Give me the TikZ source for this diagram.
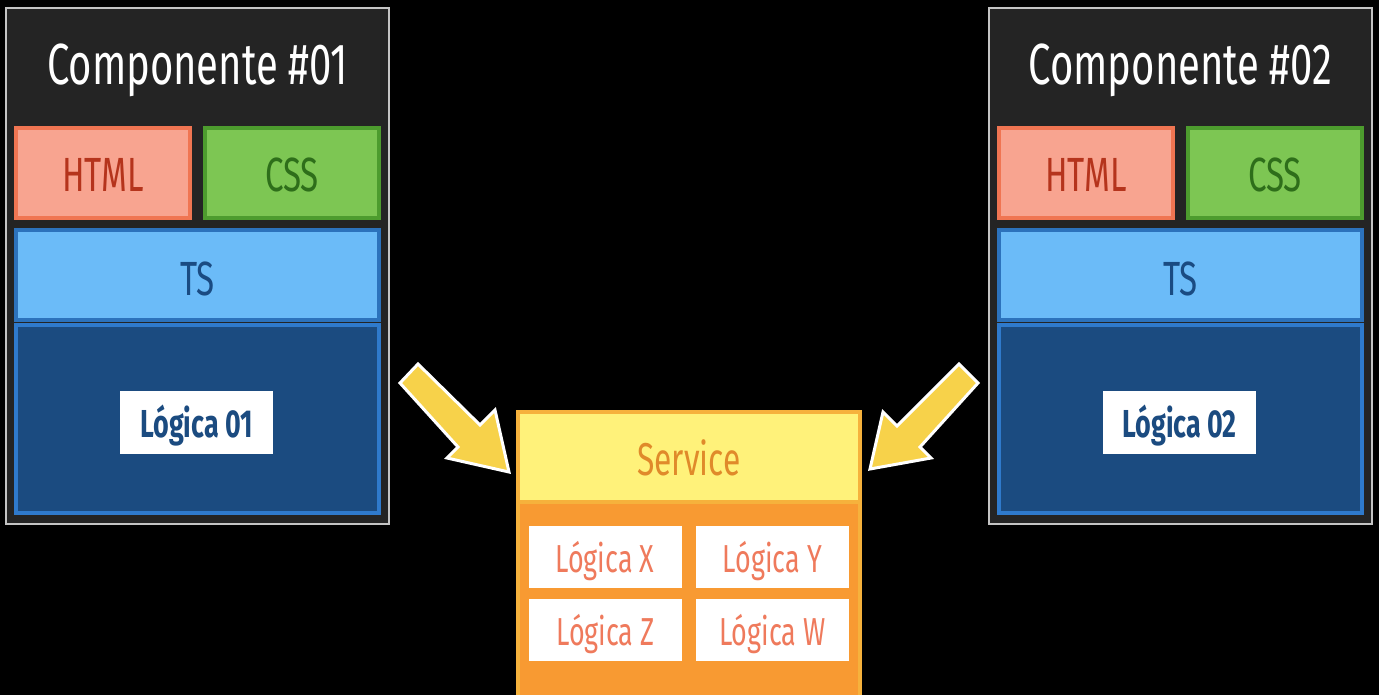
\documentclass[tikz,border=0pt]{standalone}
\usepackage{fontspec}
\setmainfont{Fira Sans}[FakeStretch=0.69]
\definecolor{bgc}{HTML}{000000}
\definecolor{compfill}{HTML}{242424}
\definecolor{compline}{HTML}{C4C4C4}
\definecolor{htmlfill}{HTML}{F8A490}
\definecolor{htmlline}{HTML}{F07552}
\definecolor{htmltext}{HTML}{B5341C}
\definecolor{cssfill}{HTML}{7DC653}
\definecolor{cssline}{HTML}{4D9C2E}
\definecolor{csstext}{HTML}{2E6E1A}
\definecolor{tsfill}{HTML}{6BBBF8}
\definecolor{tsline}{HTML}{2C72BC}
\definecolor{tstext}{HTML}{1A4B82}
\definecolor{logfill}{HTML}{1B4B80}
\definecolor{logline}{HTML}{2F7ACC}
\definecolor{srvline}{HTML}{F6B23C}
\definecolor{srvyellow}{HTML}{FFF27A}
\definecolor{srvtext}{HTML}{E08A2A}
\definecolor{srvorange}{HTML}{F89A32}
\definecolor{lxtext}{HTML}{EF7A5C}
\definecolor{arrowfill}{HTML}{F7D24A}
\tikzset{
  box/.style={rectangle, inner sep=0pt, outer sep=0pt},
  compbox/.style={box, fill=compfill, draw=compline, line width=2pt},
  htmlbox/.style={box, fill=htmlfill, draw=htmlline, line width=4pt, minimum width=174pt, minimum height=90pt},
  cssbox/.style={box, fill=cssfill, draw=cssline, line width=4pt, minimum width=174pt, minimum height=90pt},
  tsbox/.style={box, fill=tsfill, draw=tsline, line width=4pt, minimum width=363pt, minimum height=90pt},
  logbox/.style={box, fill=logfill, draw=logline, line width=4pt, minimum width=363pt, minimum height=188pt},
  whitebox/.style={box, fill=white, minimum width=153pt, minimum height=63pt},
  lxbox/.style={box, fill=white, minimum width=153pt, minimum height=62pt},
  titletxt/.style={anchor=base, inner sep=0pt, text=white, font=\fontsize{58}{58}\selectfont},
  htmltxt/.style={anchor=base, inner sep=0pt, text=htmltext, font=\fontsize{48}{48}\selectfont},
  csstxt/.style={anchor=base, inner sep=0pt, text=csstext, font=\fontsize{48}{48}\selectfont},
  tstxt/.style={anchor=base, inner sep=0pt, text=tstext, font=\fontsize{48}{48}\selectfont},
  logtxt/.style={anchor=base, inner sep=0pt, text=logfill, font=\fontsize{39}{39}\selectfont\bfseries},
  srvtxt/.style={anchor=base, inner sep=0pt, text=srvtext, font=\fontsize{46}{46}\selectfont},
  lxtxt/.style={anchor=base, inner sep=0pt, text=lxtext, font=\fontsize{39}{39}\selectfont},
  blockarrow/.style={fill=arrowfill, draw=white, line width=3pt, line join=miter}
}
\begin{document}
\begin{tikzpicture}[x=1pt,y=-1pt]
\fill[bgc] (0,0) rectangle (1379,695);
\useasboundingbox (0,0) rectangle (1379,695);

% Component 1
\node[compbox, minimum width=383pt, minimum height=516pt] (c1) at (197.5,266) {};
\node[titletxt] (c1t) at (197.5,85) {Componente \#01};
\node[htmlbox] (c1h) at (103,173) {};
\node[htmltxt] (c1ht) at (103,192) {HTML};
\node[cssbox] (c1c) at (292,173) {};
\node[csstxt] (c1ct) at (292,192) {CSS};
\node[tsbox] (c1s) at (197.5,275) {};
\node[tstxt] (c1st) at (197.5,295) {TS};
\node[logbox] (c1l) at (197.5,419) {};
\node[whitebox] (c1w) at (196.5,422.5) {};
\node[logtxt] (c1wt) at (196.5,437) {Lógica 01};

% Component 2
\begin{scope}[xshift=983pt]
\node[compbox, minimum width=383pt, minimum height=516pt] (c2) at (197.5,266) {};
\node[titletxt] (c2t) at (197.5,85) {Componente \#02};
\node[htmlbox] (c2h) at (103,173) {};
\node[htmltxt] (c2ht) at (103,192) {HTML};
\node[cssbox] (c2c) at (292,173) {};
\node[csstxt] (c2ct) at (292,192) {CSS};
\node[tsbox] (c2s) at (197.5,275) {};
\node[tstxt] (c2st) at (197.5,295) {TS};
\node[logbox] (c2l) at (197.5,419) {};
\node[whitebox] (c2w) at (196.5,422.5) {};
\node[logtxt] (c2wt) at (196.5,437) {Lógica 02};
\end{scope}

% Service
\node[box, fill=srvorange, draw=srvline, line width=4pt, minimum width=342pt, minimum height=300pt] (srv) at (689,562) {};
\node[box, fill=srvyellow, draw=srvline, line width=4pt, minimum width=342pt, minimum height=90pt] (srvh) at (689,457) {};
\node[srvtxt] (srvt) at (689,475) {Service};
\node[lxbox] (lx) at (605,557) {};
\node[lxtxt] at (605,572) {Lógica X};
\node[lxbox] (ly) at (772.5,557) {};
\node[lxtxt] at (772.5,572) {Lógica Y};
\node[lxbox] (lz) at (605.5,630) {};
\node[lxtxt] at (605.5,645) {Lógica Z};
\node[lxbox] (lw) at (772.5,630) {};
\node[lxtxt] at (772.5,645) {Lógica W};

% Arrows
\draw[blockarrow] (418,364) -- (480,425) -- (495,410) -- (509,472) -- (447,458) -- (458,447) -- (400,383) -- cycle;
\draw[blockarrow] (959,364) -- (897,426) -- (883,412) -- (870,469) -- (931,458) -- (920,447) -- (978,383) -- cycle;
\end{tikzpicture}
\end{document}
